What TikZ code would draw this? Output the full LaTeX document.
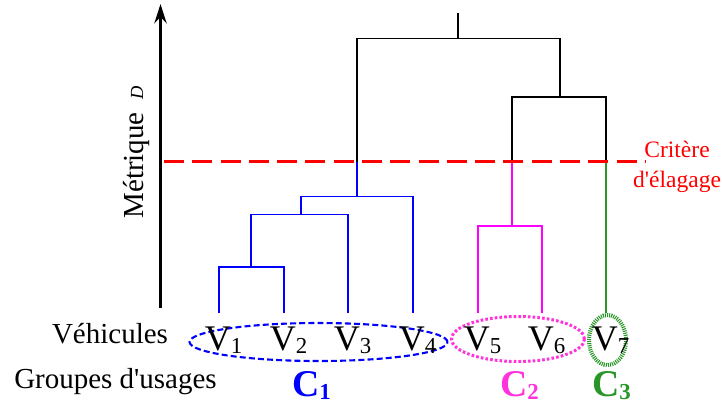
\documentclass[tikz,border=0pt]{standalone}
\usepackage{fontspec}
\setmainfont{Liberation Serif}
\usepackage{xcolor}
\usepackage{tikz}
\usetikzlibrary{shapes.geometric, arrows.meta, positioning, calc}

\definecolor{grppink}{RGB}{255,50,220}
\definecolor{grpgreen}{RGB}{40,150,40}
\definecolor{linkpink}{RGB}{255,0,255}
\newcommand{\lowidx}[1]{\raisebox{-2pt}{\fontsize{13}{13}\selectfont #1}}

\begin{document}
\begin{tikzpicture}[x=0.02cm, y=-0.02cm,
    link/.style={line width=0.7pt},
    leaf/.style={anchor=base, inner sep=0pt, font=\fontsize{20.5}{20.5}\selectfont},
    grp/.style={anchor=base, inner sep=0pt, font=\fontsize{21.5}{21.5}\selectfont\bfseries},
    title/.style={anchor=base, inner sep=0pt, font=\fontsize{16.5}{16.5}\selectfont},
    ring/.style={ellipse, inner sep=0pt}]
    \useasboundingbox (0,0) rectangle (722,410);

    % Axis
    \coordinate (axbot) at (160.5,308);
    \coordinate (axtop) at (160.5,4);
    \draw[line width=1.4pt, -{Stealth[length=11pt, width=7pt]}] (axbot) -- (axtop);
    \node[title, rotate=90] (metric) at (143,152.5) {Métrique\hspace{7pt}{\fontsize{10.5}{10.5}\selectfont\itshape D}};

    % Groups
    \node[ring, draw=blue, line width=1.2pt, dash pattern=on 3.4pt off 1.8pt,
        minimum width=5.16cm, minimum height=0.76cm] (grp1) at (318.5,342) {};
    \node[ring, draw=grppink, line width=1.7pt, dash pattern=on 1.5pt off 1.2pt,
        minimum width=2.66cm, minimum height=0.9cm] (grp2) at (518,339) {};
    \node[ring, draw=grpgreen, line width=2.3pt, dash pattern=on 0.6pt off 0.6pt,
        minimum width=0.74cm, minimum height=1.0cm] (grp3) at (607.5,340) {};

    % Leaves
    \foreach \i/\x in {1/219, 2/284, 3/348, 4/413, 5/478, 6/542, 7/606} {
        \coordinate (v\i) at (\x,313);
        \node[leaf] (lab\i) at (\x+4.5,350) {V\lowidx{\i}};
    }

    % Merges
    \coordinate (m12) at (251,267);
    \coordinate (m123) at (301,214.3);
    \coordinate (m1234) at (357,196.7);
    \coordinate (m56) at (512,226);
    \coordinate (m567) at (560,97);
    \coordinate (root) at (458,38.3);
    \coordinate (rootend) at (458,13);
    \coordinate (cutA) at (357,161.7);
    \coordinate (cutB) at (512,161.7);
    \coordinate (cutC) at (606,161.7);

    % Dendrogram
    \draw[link, blue] (v1) |- (m12) -| (v2);
    \draw[link, blue] (m12) |- (m123) -| (v3);
    \draw[link, blue] (m123) |- (m1234) -| (v4);
    \draw[link, blue] (m1234) -- (cutA);
    \draw[link, linkpink] (v5) |- (m56) -| (v6);
    \draw[link, linkpink] (m56) -- (cutB);
    \draw[link, grpgreen] (v7) -- (cutC);
    \draw[link] (cutB) |- (m567) -| (cutC);
    \draw[link] (cutA) |- (root) -| (m567);
    \draw[link] (root) -- (rootend);

    % Cut level
    \coordinate (cutL) at (164,161.7);
    \coordinate (cutR) at (645,161.7);
    \draw[red, line width=1.9pt, dash pattern=on 11.4pt off 4.7pt] (cutL) -- (cutR);
    \node[red, align=center, inner sep=0pt, font=\fontsize{13.4}{17}\selectfont] (crit) at (677,166.5) {Critère\\d\textquotesingle élagage};

    % Labels
    \node[title] (vehic) at (110,343) {Véhicules};
    \node[title] (groups) at (115.5,388) {Groupes d\textquotesingle usages};
    \node[grp, text=blue] (c1) at (311.5,396) {C\lowidx{1}};
    \node[grp, text=grppink] (c2) at (519.5,396) {C\lowidx{2}};
    \node[grp, text=grpgreen] (c3) at (611.5,396) {C\lowidx{3}};
\end{tikzpicture}
\end{document}
